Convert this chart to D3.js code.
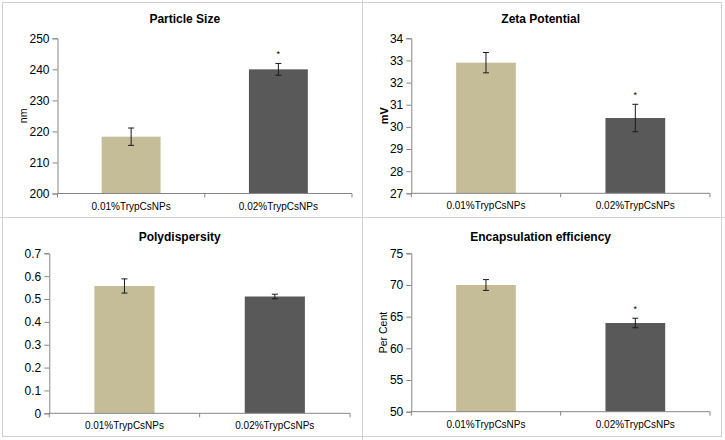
<!DOCTYPE html>
<html>
<head>
<meta charset="utf-8">
<script src="https://cdn.jsdelivr.net/npm/d3@7"></script>
<style>
  html, body { margin: 0; padding: 0; background: #fff; }
  svg { display: block; font-family: "Liberation Sans", Arial, sans-serif; }
</style>
</head>
<body>
<svg id="chart" width="725" height="440"></svg>
<script>
// ---- data ----
const categories = ["0.01%TrypCsNPs", "0.02%TrypCsNPs"];

const sizeMeans = [218.3, 240.0];
const sizeErrs = [2.8, 1.9];
const sizeSig = [false, true];
const sizeTicks = [200, 210, 220, 230, 240, 250];

const zetaMeans = [32.9, 30.4];
const zetaErrs = [0.46, 0.62];
const zetaSig = [false, true];
const zetaTicks = [27, 28, 29, 30, 31, 32, 33, 34];

const pdiMeans = [0.557, 0.511];
const pdiErrs = [0.031, 0.010];
const pdiSig = [false, false];
const pdiTicks = [0, 0.1, 0.2, 0.3, 0.4, 0.5, 0.6, 0.7];

const eeMeans = [70.0, 64.0];
const eeErrs = [0.85, 0.75];
const eeSig = [false, true];
const eeTicks = [50, 55, 60, 65, 70, 75];

const titles = ["Particle Size", "Zeta Potential", "Polydispersity", "Encapsulation efficiency"];
const yLabels = ["nm", "mV", "", "Per Cent"];
const barColors = ["#c4bd97", "#595959"];

// ---- layout ----
const panels = [
  { title: titles[0], ylab: yLabels[0], ylabBold: false, means: sizeMeans, errs: sizeErrs, sig: sizeSig, ticks: sizeTicks, fmt: d3.format("d"),
    box: [0, 0, 362, 218], plot: { x0: 57.5, x1: 352, yT: 38.3, yB: 193.5 }, labX: 23 },
  { title: titles[1], ylab: yLabels[1], ylabBold: true, means: zetaMeans, errs: zetaErrs, sig: zetaSig, ticks: zetaTicks, fmt: d3.format("d"),
    box: [362, 0, 363, 218], plot: { x0: 411.3, x1: 710, yT: 38.3, yB: 193.3 }, labX: 384 },
  { title: titles[2], ylab: yLabels[2], ylabBold: false, means: pdiMeans, errs: pdiErrs, sig: pdiSig, ticks: pdiTicks, fmt: d => d === 0 ? "0" : d3.format(".1f")(d),
    box: [0, 218, 362, 222], plot: { x0: 49.3, x1: 350, yT: 253.3, yB: 413.3 }, labX: 20 },
  { title: titles[3], ylab: yLabels[3], ylabBold: false, means: eeMeans, errs: eeErrs, sig: eeSig, ticks: eeTicks, fmt: d3.format("d"),
    box: [362, 218, 363, 222], plot: { x0: 411.3, x1: 710, yT: 253.3, yB: 411.7 }, labX: 383 }
];

const svg = d3.select("#chart");
const axisColor = "#868686";

// panel borders
svg.append("rect").attr("x", 2.5).attr("y", 2.5).attr("width", 719).attr("height", 434)
  .attr("fill", "none").attr("stroke", "#d0d0d0");
svg.append("line").attr("x1", 362.5).attr("x2", 362.5).attr("y1", 0).attr("y2", 440)
  .attr("stroke", "#d0d0d0");
svg.append("line").attr("x1", 0).attr("x2", 725).attr("y1", 217.5).attr("y2", 217.5)
  .attr("stroke", "#d0d0d0");

panels.forEach(p => {
  const g = svg.append("g");
  const pl = p.plot;
  const x = d3.scaleBand().domain(categories).range([pl.x0, pl.x1]).paddingInner(0.6).paddingOuter(0.3);
  const xb = d3.scaleBand().domain(categories).range([pl.x0, pl.x1]);
  const y = d3.scaleLinear().domain(d3.extent(p.ticks)).range([pl.yB, pl.yT]);

  // title
  g.append("text").attr("x", (pl.x0 + pl.x1) / 2 - 20).attr("y", p.box[1] + 23)
    .attr("text-anchor", "middle").attr("font-size", 12).attr("font-weight", "bold")
    .attr("fill", "#000").text(p.title);

  // bars
  g.selectAll("rect.bar").data(p.means).join("rect")
    .attr("x", (d, i) => x(categories[i]))
    .attr("width", x.bandwidth())
    .attr("y", d => y(d))
    .attr("height", d => y.range()[0] - y(d))
    .attr("fill", (d, i) => barColors[i]);

  // y axis
  const yAxis = d3.axisLeft(y).tickValues(p.ticks).tickFormat(p.fmt).tickSize(5).tickPadding(3);
  const ya = g.append("g").attr("transform", `translate(${pl.x0},0)`).call(yAxis);
  ya.select(".domain").attr("stroke", axisColor);
  ya.selectAll(".tick line").attr("stroke", axisColor);
  ya.selectAll(".tick text").attr("font-size", 12).attr("fill", "#000")
    .attr("font-family", "Liberation Sans, Arial, sans-serif");

  // x axis
  const xa = g.append("g").attr("transform", `translate(0,${pl.yB})`);
  xa.append("line").attr("x1", pl.x0).attr("x2", pl.x1).attr("y1", 0).attr("y2", 0).attr("stroke", axisColor);
  const edges = [pl.x0, xb(categories[1]), pl.x1];
  xa.selectAll("line.tk").data(edges).join("line").attr("class", "tk")
    .attr("x1", d => d).attr("x2", d => d).attr("y1", 0).attr("y2", 4).attr("stroke", axisColor);
  xa.selectAll("text").data(categories).join("text")
    .attr("x", d => xb(d) + xb.bandwidth() / 2).attr("y", 16)
    .attr("text-anchor", "middle").attr("font-size", 10).attr("fill", "#000").text(d => d);

  // error bars
  const eb = g.append("g").attr("stroke", "#1a1a1a").attr("stroke-width", 1);
  p.means.forEach((m, i) => {
    const cx = x(categories[i]) + x.bandwidth() / 2;
    const top = y(m + p.errs[i]), bot = y(m - p.errs[i]);
    eb.append("line").attr("x1", cx).attr("x2", cx).attr("y1", top).attr("y2", bot);
    eb.append("line").attr("x1", cx - 3).attr("x2", cx + 3).attr("y1", top).attr("y2", top);
    eb.append("line").attr("x1", cx - 3).attr("x2", cx + 3).attr("y1", bot).attr("y2", bot);
    if (p.sig[i]) {
      g.append("text").attr("x", cx).attr("y", top - 6)
        .attr("text-anchor", "middle").attr("font-size", 9).attr("fill", "#000").text("*");
    }
  });

  // y label
  if (p.ylab) {
    const cy = (pl.yT + pl.yB) / 2;
    g.append("text").attr("transform", `translate(${p.labX},${cy}) rotate(-90)`)
      .attr("text-anchor", "middle").attr("dy", "0.35em")
      .attr("font-size", p.ylabBold ? 11 : 10.5).attr("font-weight", p.ylabBold ? "bold" : "normal")
      .attr("fill", "#000").text(p.ylab);
  }
});
</script>
</body>
</html>
